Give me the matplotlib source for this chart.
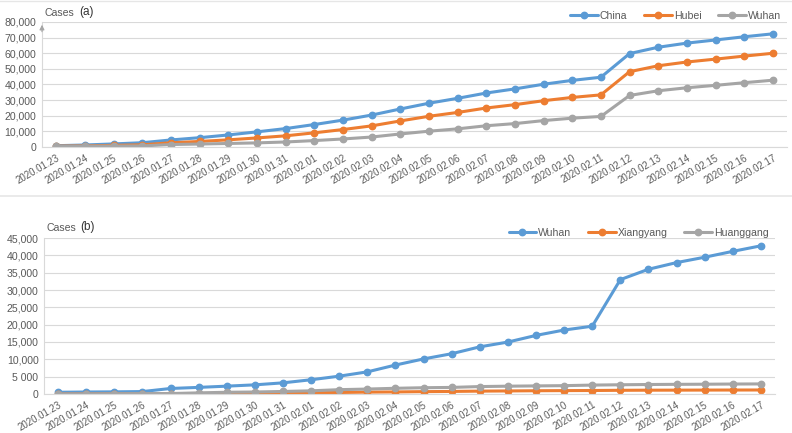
import matplotlib
matplotlib.use("Agg")
import matplotlib.pyplot as plt
from matplotlib.lines import Line2D

dates = ["2020.01.23", "2020.01.24", "2020.01.25", "2020.01.26", "2020.01.27",
         "2020.01.28", "2020.01.29", "2020.01.30", "2020.01.31", "2020.02.01",
         "2020.02.02", "2020.02.03", "2020.02.04", "2020.02.05", "2020.02.06",
         "2020.02.07", "2020.02.08", "2020.02.09", "2020.02.10", "2020.02.11",
         "2020.02.12", "2020.02.13", "2020.02.14", "2020.02.15", "2020.02.16",
         "2020.02.17"]

china = [830, 1287, 1975, 2744, 4515, 5974, 7711, 9692, 11791, 14380, 17205,
         20438, 24324, 28018, 31161, 34546, 37198, 40171, 42638, 44653, 59804,
         63851, 66492, 68500, 70548, 72436]
hubei = [549, 729, 1052, 1423, 2714, 3554, 4586, 5806, 7153, 9074, 11177,
         13522, 16678, 19665, 22112, 24953, 27100, 29631, 31728, 33366, 48206,
         51986, 54406, 56249, 58182, 59989]
wuhan = [495, 572, 618, 698, 1590, 1905, 2261, 2639, 3215, 4109, 5142, 6384,
         8351, 10117, 11618, 13603, 14982, 16902, 18454, 19558, 32994, 35991,
         37914, 39462, 41152, 42752]
xiangyang = [0, 0, 36, 70, 70, 131, 166, 197, 286, 365, 429, 539, 592, 678,
             736, 826, 876, 937, 972, 1005, 1063, 1096, 1107, 1128, 1142, 1155]
huanggang = [12, 12, 64, 122, 122, 324, 496, 573, 726, 915, 1246, 1422, 1645,
             1807, 1897, 2141, 2252, 2332, 2406, 2567, 2662, 2735, 2785, 2818,
             2873, 2904]

ticks_a = [0, 10000, 20000, 30000, 40000, 50000, 60000, 70000, 80000]
ticklabels_a = ["0", "10,000", "20,000", "30,000", "40,000", "50,000",
                "60,000", "70,000", "80,000"]
ticks_b = [0, 5000, 10000, 15000, 20000, 25000, 30000, 35000, 40000, 45000]
ticklabels_b = ["0", "5 000", "10,000", "15,000", "20,000", "25,000",
                "30,000", "35,000", "40,000", "45,000"]

BLUE = "#5B9BD5"
ORANGE = "#ED7D31"
GRAY = "#A5A5A5"
TXT = "#595959"
GRID = "#D9D9D9"

plt.rcParams["font.family"] = ["Liberation Sans", "DejaVu Sans"]

fig = plt.figure(figsize=(7.92, 4.33), dpi=100)

# faint frames around the two panels
fig.add_artist(Line2D([0, 1], [0.998, 0.998], color="#E6E6E6", lw=1))
fig.add_artist(Line2D([0, 1], [1 - 196 / 433, 1 - 196 / 433], color="#E6E6E6", lw=1.2))


def panel(ax, series, names, ticks, ticklabels, tag, ymax):
    x = list(range(len(dates)))
    for vals, name, col in zip(series, names, [BLUE, ORANGE, GRAY]):
        ax.plot(x, vals, color=col, lw=2.2, marker="o", ms=4.6, label=name,
                solid_capstyle="round")
    ax.set_xlim(-0.5, len(dates) - 0.5)
    ax.set_ylim(0, ymax)
    ax.set_yticks(ticks)
    ax.set_yticklabels(ticklabels)
    ax.set_xticks(x)
    ax.set_xticklabels(dates, rotation=30, ha="right", rotation_mode="anchor")
    ax.grid(axis="y", color=GRID, lw=0.8)
    ax.set_axisbelow(True)
    for s in ["top", "right"]:
        ax.spines[s].set_visible(False)
    ax.spines["left"].set_color(GRID)
    ax.spines["bottom"].set_color(GRID)
    ax.tick_params(axis="x", length=0, labelsize=6.9, labelcolor=TXT, pad=4)
    ax.tick_params(axis="y", length=0, labelsize=7.6, labelcolor=TXT, pad=4)
    leg = ax.legend(loc="lower right", bbox_to_anchor=(1.0, 0.96), ncol=3,
                    frameon=False, fontsize=7.6, handlelength=2.6,
                    columnspacing=1.6, handletextpad=0.2, borderaxespad=0.2)
    for t in leg.get_texts():
        t.set_color(TXT)
    ax.text(0.003, 1.03, "Cases", transform=ax.transAxes, fontsize=7.6,
            color=TXT, va="bottom", ha="left")
    ax.text(0.05, 1.035, tag, transform=ax.transAxes, fontsize=8.5,
            color="#333333", va="bottom", ha="left")


ax1 = fig.add_axes([0.053, 0.6605, 0.941, 0.2887])
panel(ax1, [china, hubei, wuhan], ["China", "Hubei", "Wuhan"],
      ticks_a, ticklabels_a, "(a)", 80000)
ax1.annotate("", xy=(0, 1.0), xytext=(0, 0.9), xycoords="axes fraction",
             arrowprops=dict(arrowstyle="-|>", color="#A6A6A6", lw=0.8,
                             mutation_scale=7))

ax2 = fig.add_axes([0.0556, 0.0901, 0.9229, 0.3602])
panel(ax2, [wuhan, xiangyang, huanggang], ["Wuhan", "Xiangyang", "Huanggang"],
      ticks_b, ticklabels_b, "(b)", 45000)

fig.savefig("out.png", dpi=100)
